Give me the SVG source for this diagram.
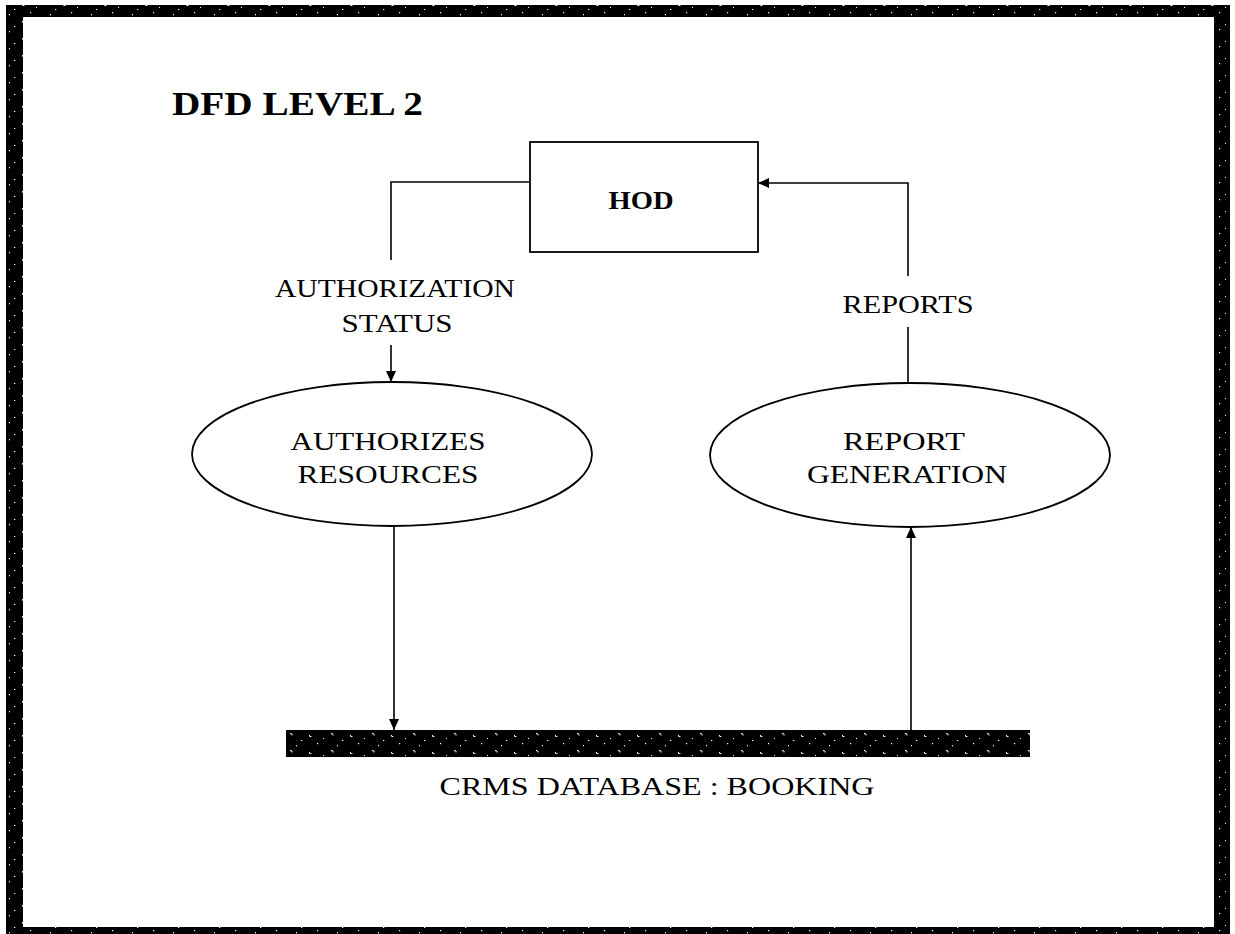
<svg xmlns="http://www.w3.org/2000/svg" width="1235" height="934" viewBox="0 0 1235 934">
  <style>
    .t { font-family: "Liberation Serif", "Times New Roman", serif; fill: #000; }
    .lbl { font-size: 25px; }
    .ln { fill: none; stroke: #000; stroke-width: 1.6; }
    .shape { fill: #fff; stroke: #000; stroke-width: 1.8; }
  </style>
  <defs>
    <marker id="arrow" markerUnits="userSpaceOnUse" markerWidth="12" markerHeight="10" refX="11" refY="5" orient="auto">
      <path d="M0,0 L11,5 L0,10 Z" fill="#000"/>
    </marker>
    <!-- black fill with sparse, irregular white specks -->
    <pattern id="grain" width="41" height="17" patternUnits="userSpaceOnUse">
      <rect width="41" height="17" fill="#000"/>
      <rect x="3" y="2" width="1.6" height="1.2" fill="#fff"/>
      <rect x="4.5" y="3" width="1" height="1.5" fill="#fff"/>
      <rect x="14" y="9" width="1.3" height="1" fill="#fff"/>
      <rect x="22" y="4" width="1" height="1.6" fill="#fff"/>
      <rect x="23" y="5" width="1.4" height="1" fill="#fff"/>
      <rect x="30" y="12" width="1.2" height="1.2" fill="#fff"/>
      <rect x="36" y="7" width="1" height="1" fill="#fff"/>
      <rect x="9" y="14" width="1" height="1.3" fill="#fff"/>
    </pattern>
  </defs>

  <rect width="1235" height="934" fill="#fff"/>

  <!-- page frame -->
  <path d="M6,5 H1230 V934 H6 Z M23,17 V927 H1214 V17 Z" fill="url(#grain)" fill-rule="evenodd"/>

  <text class="t" x="172" y="115" font-size="34" font-weight="bold" textLength="251" lengthAdjust="spacingAndGlyphs">DFD LEVEL 2</text>

  <!-- data flows -->
  <g id="connectors">
    <polyline class="ln" points="530,182 391,182 391,260"/>
    <text class="t lbl" x="395" y="297" text-anchor="middle" textLength="240" lengthAdjust="spacingAndGlyphs">AUTHORIZATION</text>
    <text class="t lbl" x="397" y="332" text-anchor="middle" textLength="111" lengthAdjust="spacingAndGlyphs">STATUS</text>
    <line class="ln" x1="391" y1="345" x2="391" y2="382" marker-end="url(#arrow)"/>

    <polyline class="ln" points="908,276 908,183 758,183" marker-end="url(#arrow)"/>
    <text class="t lbl" x="908" y="313" text-anchor="middle" textLength="131" lengthAdjust="spacingAndGlyphs">REPORTS</text>
    <line class="ln" x1="908" y1="327" x2="908" y2="383"/>

    <line class="ln" x1="394" y1="526" x2="394" y2="730" marker-end="url(#arrow)"/>
    <line class="ln" x1="911" y1="730" x2="911" y2="527" marker-end="url(#arrow)"/>
  </g>

  <!-- external entity -->
  <g id="hod">
    <rect class="shape" x="530" y="142" width="228" height="110"/>
    <text class="t" x="641" y="209" font-size="26" font-weight="bold" text-anchor="middle" textLength="65" lengthAdjust="spacingAndGlyphs">HOD</text>
  </g>

  <!-- processes -->
  <g id="authorizes-resources">
    <ellipse class="shape" cx="392" cy="454" rx="200" ry="72"/>
    <text class="t lbl" x="388" y="450" text-anchor="middle" textLength="195" lengthAdjust="spacingAndGlyphs">AUTHORIZES</text>
    <text class="t lbl" x="388" y="483" text-anchor="middle" textLength="181" lengthAdjust="spacingAndGlyphs">RESOURCES</text>
  </g>

  <g id="report-generation">
    <ellipse class="shape" cx="910" cy="455" rx="200" ry="72"/>
    <text class="t lbl" x="904" y="450" text-anchor="middle" textLength="122" lengthAdjust="spacingAndGlyphs">REPORT</text>
    <text class="t lbl" x="907" y="483" text-anchor="middle" textLength="200" lengthAdjust="spacingAndGlyphs">GENERATION</text>
  </g>

  <!-- data store -->
  <g id="crms-database">
    <rect x="286" y="730" width="744" height="27" fill="url(#grain)"/>
    <text class="t" x="657" y="795" font-size="26" text-anchor="middle" textLength="435" lengthAdjust="spacingAndGlyphs">CRMS DATABASE : BOOKING</text>
  </g>
</svg>
